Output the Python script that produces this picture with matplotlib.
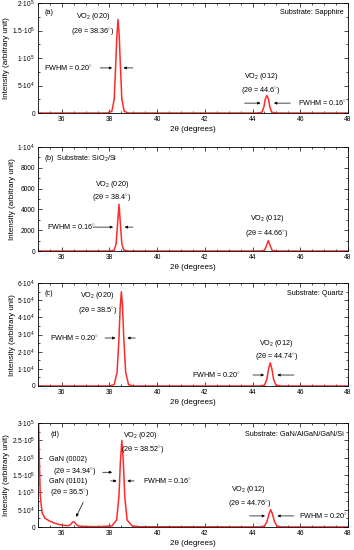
import matplotlib.pyplot as plt
from matplotlib.ticker import FixedLocator, FixedFormatter, MultipleLocator

plt.rcParams['font.family'] = ['Liberation Sans', 'DejaVu Sans']
plt.rcParams['mathtext.fontset'] = 'custom'
plt.rcParams['mathtext.rm'] = 'Liberation Sans'

# --- data: 2-theta (deg) vs intensity ---
x_a = [35, 37.9, 38.1, 38.2, 38.26, 38.31, 38.36, 38.41, 38.46, 38.52, 38.62, 38.8,
       44.2, 44.4, 44.48, 44.53, 44.6, 44.67, 44.72, 44.8, 45.0, 48]
y_a = [0, 0, 3000, 25000, 85000, 140000, 170000, 140000, 85000, 25000, 3000, 0,
       0, 1500, 12000, 25000, 32000, 25000, 12000, 1500, 0, 0]

x_b = [35, 38.0, 38.2, 38.28, 38.34, 38.4, 38.46, 38.52, 38.6, 38.8,
       44.3, 44.5, 44.58, 44.66, 44.74, 44.82, 45.0, 48]
y_b = [0, 0, 80, 700, 2600, 4500, 2600, 700, 80, 0,
       0, 60, 500, 1000, 500, 60, 0, 0]

x_c = [35, 38.0, 38.2, 38.32, 38.4, 38.45, 38.5, 38.55, 38.6, 38.68, 38.8, 39.0,
       44.3, 44.5, 44.6, 44.67, 44.74, 44.81, 44.88, 44.98, 45.2, 48]
y_c = [0, 0, 800, 8000, 28000, 46000, 55000, 46000, 28000, 8000, 800, 0,
       0, 500, 4000, 10000, 13500, 10000, 4000, 500, 0, 0]

x_d = [35.03, 35.06, 35.1, 35.18, 35.3, 35.5, 35.7, 35.9, 36.1, 36.3, 36.4, 36.45,
       36.5, 36.55, 36.6, 36.7, 37.0, 37.5, 38.1, 38.3, 38.4, 38.46, 38.52, 38.58,
       38.64, 38.74, 38.95, 39.3, 44.3, 44.5, 44.6, 44.69, 44.76, 44.83, 44.92,
       45.02, 45.2, 48]
y_d = [300000, 200000, 90000, 40000, 25000, 17000, 11000, 7000, 4500, 4000, 9000,
       14000, 15000, 13000, 8000, 3000, 1500, 900, 3000, 20000, 90000, 190000,
       250000, 190000, 90000, 20000, 3000, 800, 300, 3000, 15000, 38000, 50000,
       38000, 15000, 3000, 300, 100]

ytick_a = [0, 50000, 100000, 150000, 200000]
ylab_a = ['0', '5·10$^4$', '1·10$^5$', '1.5·10$^5$', '2·10$^5$']
ytick_b = [0, 2000, 4000, 6000, 8000, 10000]
ylab_b = ['0', '2000', '4000', '6000', '8000', '1·10$^4$']
ytick_c = [0, 10000, 20000, 30000, 40000, 50000, 60000]
ylab_c = ['0', '1·10$^4$', '2·10$^4$', '3·10$^4$', '4·10$^4$', '5·10$^4$', '6·10$^4$']
ytick_d = [0, 50000, 100000, 150000, 200000, 250000, 300000]
ylab_d = ['0', '5·10$^4$', '1·10$^5$', '1.5·10$^5$', '2·10$^5$', '2.5·10$^5$', '3·10$^5$']

RED = '#ff2a2a'
FS = 5.2
DEG = r'$^{\circ}$'

fig = plt.figure(figsize=(3.54, 5.5), dpi=100)
boxes = [[0.107, 0.7945, 0.876, 0.200],
         [0.107, 0.5436, 0.876, 0.189],
         [0.107, 0.2982, 0.876, 0.187],
         [0.107, 0.0418, 0.876, 0.189]]
series = [(x_a, y_a, ytick_a, ylab_a), (x_b, y_b, ytick_b, ylab_b),
          (x_c, y_c, ytick_c, ylab_c), (x_d, y_d, ytick_d, ylab_d)]
axes = []
for box, (xs, ys, yt, yl) in zip(boxes, series):
    ax = fig.add_axes(box)
    ax.plot(xs, ys, color=RED, lw=1.1, clip_on=True)
    ax.set_xlim(35, 48)
    ax.set_ylim(yt[0], yt[-1])
    ax.xaxis.set_major_locator(MultipleLocator(2))
    ax.xaxis.set_minor_locator(MultipleLocator(0.5))
    ax.yaxis.set_major_locator(FixedLocator(yt))
    ax.yaxis.set_major_formatter(FixedFormatter(yl))
    ax.yaxis.set_minor_locator(MultipleLocator((yt[1] - yt[0]) / 2))
    ax.tick_params(which='both', direction='in', top=True, right=True,
                   labelsize=4.8, width=0.5, pad=2)
    ax.tick_params(which='major', length=3)
    ax.tick_params(which='minor', length=1.5)
    for s in ax.spines.values():
        s.set_linewidth(0.6)
    ax.set_xlabel('2θ (degrees)', fontsize=5.8, labelpad=2)
    ax.set_ylabel('Intensity (arbitrary unit)', fontsize=5.8, labelpad=1)
    axes.append(ax)

arrow = dict(arrowstyle='-|>', color='black', lw=0.5, mutation_scale=4)

# (a)
ax = axes[0]
ax.text(0.02, 0.9, '(a)', transform=ax.transAxes, fontsize=FS)
ax.text(0.985, 0.9, 'Substrate: Sapphire', transform=ax.transAxes, fontsize=FS, ha='right')
ax.text(37.3, 172000, 'VO$_2$ (020)', fontsize=FS, ha='center')
ax.text(37.3, 145000, '(2θ = 38.36' + DEG + ')', fontsize=FS, ha='center')
ax.text(36.3, 82000, 'FWHM = 0.20' + DEG, fontsize=FS, ha='center', va='center')
ax.annotate('', xy=(38.23, 82000), xytext=(37.5, 82000), arrowprops=arrow)
ax.annotate('', xy=(38.47, 82000), xytext=(39.1, 82000), arrowprops=arrow)
ax.text(44.35, 63000, 'VO$_2$ (012)', fontsize=FS, ha='center')
ax.text(44.35, 37000, '(2θ = 44.6' + DEG + ')', fontsize=FS, ha='center')
ax.annotate('', xy=(44.45, 18000), xytext=(43.55, 18000), arrowprops=arrow)
ax.annotate('', xy=(44.78, 18000), xytext=(45.7, 18000), arrowprops=arrow)
ax.text(45.9, 18000, 'FWHM = 0.16' + DEG, fontsize=FS, va='center')

# (b)
ax = axes[1]
ax.text(0.02, 0.88, '(b)  Substrate: SiO$_2$/Si', transform=ax.transAxes, fontsize=FS)
ax.text(38.1, 6300, 'VO$_2$ (020)', fontsize=FS, ha='center')
ax.text(38.1, 4900, '(2θ = 38.4' + DEG + ')', fontsize=FS, ha='center')
ax.text(36.4, 2300, 'FWHM = 0.16' + DEG, fontsize=FS, ha='center', va='center')
ax.annotate('', xy=(38.27, 2300), xytext=(37.2, 2300), arrowprops=arrow)
ax.annotate('', xy=(38.52, 2300), xytext=(39.1, 2300), arrowprops=arrow)
ax.text(44.6, 3000, 'VO$_2$ (012)', fontsize=FS, ha='center')
ax.text(44.6, 1500, '(2θ = 44.66' + DEG + ')', fontsize=FS, ha='center')

# (c)
ax = axes[2]
ax.text(0.02, 0.88, '(c)', transform=ax.transAxes, fontsize=FS)
ax.text(0.985, 0.88, 'Substrate: Quartz', transform=ax.transAxes, fontsize=FS, ha='right')
ax.text(37.5, 52000, 'VO$_2$ (020)', fontsize=FS, ha='center')
ax.text(37.5, 43000, '(2θ = 38.5' + DEG + ')', fontsize=FS, ha='center')
ax.text(36.55, 28000, 'FWHM = 0.20' + DEG, fontsize=FS, ha='center', va='center')
ax.annotate('', xy=(38.37, 28000), xytext=(37.7, 28000), arrowprops=arrow)
ax.annotate('', xy=(38.63, 28000), xytext=(39.2, 28000), arrowprops=arrow)
ax.text(45.0, 24000, 'VO$_2$ (012)', fontsize=FS, ha='center')
ax.text(45.0, 16000, '(2θ = 44.74' + DEG + ')', fontsize=FS, ha='center')
ax.text(42.5, 6400, 'FWHM = 0.20' + DEG, fontsize=FS, ha='center', va='center')
ax.annotate('', xy=(44.6, 6400), xytext=(43.9, 6400), arrowprops=arrow)
ax.annotate('', xy=(44.92, 6400), xytext=(45.85, 6400), arrowprops=arrow)

# (d)
ax = axes[3]
ax.text(0.04, 0.88, '(d)', transform=ax.transAxes, fontsize=FS)
ax.text(0.985, 0.88, 'Substrate: GaN/AlGaN/GaN/Si', transform=ax.transAxes, fontsize=FS, ha='right')
ax.text(36.26, 195000, 'GaN (0002)', fontsize=FS, ha='center', va='center')
ax.text(36.55, 158000, '(2θ = 34.94' + DEG + ')', fontsize=FS, ha='center', va='center')
ax.annotate('', xy=(38.23, 158000), xytext=(37.6, 158000), arrowprops=arrow)
ax.text(39.3, 265000, 'VO$_2$ (020)', fontsize=FS, ha='center', va='center')
ax.text(39.4, 222000, '(2θ = 38.52' + DEG + ')', fontsize=FS, ha='center', va='center')
ax.text(36.26, 130000, 'GaN (0101)', fontsize=FS, ha='center', va='center')
ax.text(36.34, 98000, '(2θ = 36.5' + DEG + ')', fontsize=FS, ha='center', va='center')
ax.annotate('', xy=(36.55, 22000), xytext=(36.95, 78000), arrowprops=arrow)
ax.annotate('', xy=(38.42, 133000), xytext=(37.93, 133000), arrowprops=arrow)
ax.annotate('', xy=(38.63, 133000), xytext=(39.15, 133000), arrowprops=arrow)
ax.text(39.4, 133000, 'FWHM = 0.16' + DEG, fontsize=FS, va='center')
ax.text(43.8, 107000, 'VO$_2$ (012)', fontsize=FS, ha='center', va='center')
ax.text(43.9, 67000, '(2θ = 44.76' + DEG + ')', fontsize=FS, ha='center', va='center')
ax.annotate('', xy=(44.64, 32000), xytext=(43.76, 32000), arrowprops=arrow)
ax.annotate('', xy=(44.92, 32000), xytext=(45.85, 32000), arrowprops=arrow)
ax.text(45.95, 32000, 'FWHM = 0.20' + DEG, fontsize=FS, va='center')

fig.savefig('out.png', dpi=100)
